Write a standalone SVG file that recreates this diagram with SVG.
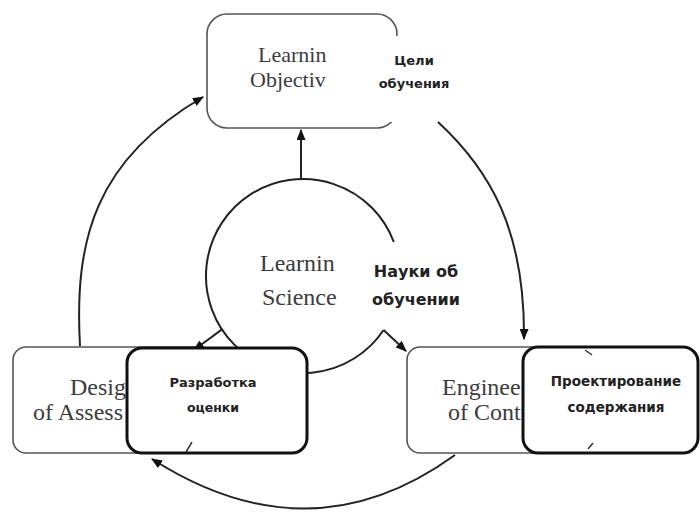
<svg xmlns="http://www.w3.org/2000/svg" width="700" height="512" viewBox="0 0 700 512">
<style>
  .box { fill: #fff; stroke: #555; stroke-width: 1.6; }
  .tbox { fill: #fff; stroke: #111; stroke-width: 3; }
  .en { font-family: "Liberation Serif", "Times New Roman", serif; font-size: 24px; fill: #3c3c3c; }
  .ru { font-family: "DejaVu Sans", "Noto Sans", sans-serif; font-weight: bold; fill: #222; text-anchor: middle; }
  .conn { fill: none; stroke: #222; stroke-width: 2; }
  .tick { fill: none; stroke: #333; stroke-width: 1.5; }
</style>
<defs>
  <marker id="ah" markerUnits="userSpaceOnUse" markerWidth="11" markerHeight="9" refX="10" refY="4.5" orient="auto">
    <path d="M0,0 L11,4.5 L0,9 z" fill="#111"/>
  </marker>
</defs>
<rect width="700" height="512" fill="#fff"/>

<g id="node-objectives">
  <rect class="box" x="207" y="14" width="190" height="114" rx="20"/>
  <rect x="386" y="36" width="76" height="86" fill="#fff"/>
  <text class="en" x="258" y="62" style="font-size:22px">Learnin</text>
  <text class="en" x="250" y="87" style="font-size:22px">Objectiv</text>
  <text class="ru" x="414" y="65" font-size="13">Цели</text>
  <text class="ru" x="414" y="88" font-size="13">обучения</text>
</g>

<g id="node-science">
  <path d="M383.6,330 A97,97 0 1 1 393.8,242" fill="none" stroke="#222" stroke-width="2"/>
  <text class="en" x="260" y="271">Learnin</text>
  <text class="en" x="262" y="305">Science</text>
  <text class="ru" x="416" y="277" font-size="16">Науки об</text>
  <text class="ru" x="416" y="305" font-size="16">обучении</text>
</g>

<g id="node-design">
  <rect class="box" x="13" y="347" width="200" height="106" rx="13"/>
  <text class="en" x="70" y="395">Desig</text>
  <text class="en" x="33" y="420">of Assess</text>
</g>

<g id="node-engineering">
  <rect class="box" x="407" y="347" width="200" height="106" rx="13"/>
  <text class="en" x="442" y="395">Enginee</text>
  <text class="en" x="448" y="420">of Cont</text>
</g>

<g id="connectors">
  <line class="conn" x1="301" y1="179" x2="301" y2="130" marker-end="url(#ah)"/>
  <line class="conn" x1="222" y1="329.4" x2="194" y2="350" marker-end="url(#ah)"/>
  <line class="conn" x1="383.6" y1="330" x2="406" y2="351" marker-end="url(#ah)"/>
  <path class="conn" d="M438,122 C490,170 525,230 524,339" marker-end="url(#ah)"/>
  <path class="conn" d="M80,346 C74,240 95,160 203,97" marker-end="url(#ah)"/>
  <path class="conn" d="M455,455 Q310,560 152,459" marker-end="url(#ah)"/>
</g>

<g id="node-razrabotka">
  <rect class="tbox" x="127" y="348" width="180" height="105" rx="15"/>
  <text class="ru" x="213" y="387" font-size="13">Разработка</text>
  <text class="ru" x="213" y="412" font-size="12.5">оценки</text>
  <path class="tick" d="M192,442 L186,452"/>
</g>

<g id="node-proektirovanie">
  <rect class="tbox" x="523" y="347" width="175" height="106" rx="15"/>
  <text class="ru" x="616" y="386" font-size="13.5">Проектирование</text>
  <text class="ru" x="616" y="412" font-size="13.5">содержания</text>
  <path class="tick" d="M585,350 L592,355"/>
  <path class="tick" d="M593,443 L588,449"/>
</g>
</svg>
